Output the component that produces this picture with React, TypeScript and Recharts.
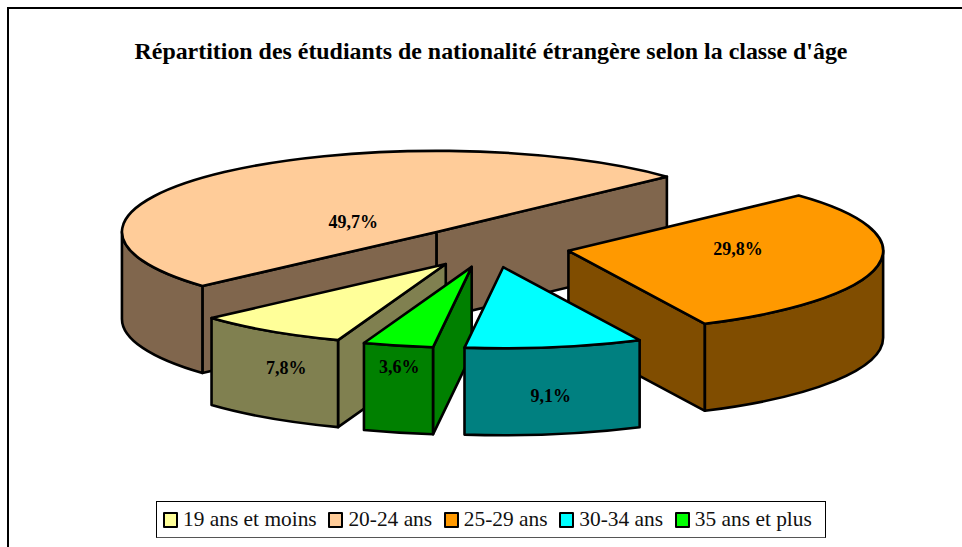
import React from "react";
import { PieChart, Pie, Legend } from "recharts";

const categories = ["19 ans et moins", "20-24 ans", "25-29 ans", "30-34 ans", "35 ans et plus"];
const shares = [7.8, 49.7, 29.8, 9.1, 3.6];
const topColors = ["#FFFF99", "#FFCC99", "#FF9900", "#00FFFF", "#00FF00"];
const wallColors = ["#808050", "#80664D", "#804D00", "#008080", "#008000"];
// Clockwise order round the pie, starting at the large slice
const ringOrder = [1, 2, 3, 4, 0];
// Painter's order of the exploded slices, back to front
const paintOrder = [1, 2, 0, 4, 3];
// Label offset from each slice's apex
const labelNudge = [[-160, 104], [-84, -10], [169, -2], [47, 129], [-73, 100]];

const ringData = ringOrder.map((i) => ({ name: categories[i], value: shares[i], index: i }));

const SQUASH = 0.2575;
const DEPTH = 87;
const EXPLODE = 79.5;
const STROKE = 2.6;

const rad = (d: number) => (d * Math.PI) / 180;

function Slice(props: any) {
  const { cx, cy, outerRadius: r, startAngle, endAngle, payload } = props;
  const idx: number = payload?.index ?? props.index;
  const delta = Math.abs(endAngle - startAngle);
  const a0 = ((90 - startAngle) % 360 + 360) % 360;
  const a1 = a0 + delta;
  const mid = a0 + delta / 2;
  const ax = cx + EXPLODE * Math.sin(rad(mid));
  const ay = cy - EXPLODE * Math.cos(rad(mid)) * SQUASH;
  const px = (a: number) => ax + r * Math.sin(rad(a));
  const py = (a: number) => ay - r * Math.cos(rad(a)) * SQUASH;
  const ry = r * SQUASH;
  const arc = (from: number, to: number, dy = 0, sweep = 1) =>
    `A${r} ${ry} 0 ${Math.abs(to - from) > 180 ? 1 : 0} ${sweep} ${px(to)} ${py(to) + dy}`;
  const common = { stroke: "#000", strokeWidth: STROKE, strokeLinejoin: "round" as const };
  const cut = (a: number) =>
    `M${ax} ${ay}L${px(a)} ${py(a)}L${px(a)} ${py(a) + DEPTH}L${ax} ${ay + DEPTH}Z`;
  const lo = Math.max(a0, 90);
  const hi = Math.min(a1, 270);
  const [nx, ny] = labelNudge[idx];
  return (
    <g>
      {Math.sin(rad(a0)) < 0 && <path d={cut(a0)} fill={wallColors[idx]} {...common} />}
      {Math.sin(rad(a1)) > 0 && <path d={cut(a1)} fill={wallColors[idx]} {...common} />}
      {hi > lo && (
        <path
          d={`M${px(lo)} ${py(lo)}${arc(lo, hi)}L${px(hi)} ${py(hi) + DEPTH}${arc(hi, lo, DEPTH, 0)}Z`}
          fill={wallColors[idx]}
          {...common}
        />
      )}
      <path d={`M${ax} ${ay}L${px(a0)} ${py(a0)}${arc(a0, a1)}Z`} fill={topColors[idx]} {...common} />
      <text
        x={ax + nx + 0.5}
        y={ay + ny}
        textAnchor="middle"
        dominantBaseline="central"
        fontFamily="'Liberation Serif'"
        fontWeight="bold"
        fontSize={18}
        fill="#000"
      >
        {shares[idx].toFixed(1).replace(".", ",")}%
      </text>
    </g>
  );
}

function LegendBox() {
  return (
    <div
      style={{
        boxSizing: "border-box",
        width: 670,
        height: 37,
        background: "#fff",
        border: "1px solid #000",
        borderBottomColor: "#555",
        display: "flex",
        alignItems: "center",
        paddingLeft: 6,
        fontFamily: "'Liberation Serif'",
        fontSize: 21.4,
        color: "#111",
        whiteSpace: "nowrap",
      }}
    >
      {categories.map((c, i) => (
        <span key={c} style={{ display: "inline-flex", alignItems: "center", marginRight: 11.7 }}>
          <span
            style={{
              boxSizing: "border-box",
              width: 15,
              height: 16,
              background: topColors[i],
              border: "2px solid #000",
              borderRadius: 1,
              marginRight: 5,
            }}
          />
          {c}
        </span>
      ))}
    </div>
  );
}

export default function App() {
  return (
    <div style={{ position: "absolute", left: 0, top: 0, width: 962, height: 547, overflow: "hidden", background: "#fff" }}>
      <div style={{ position: "absolute", left: 7, top: 7, width: 955, height: 540, borderTop: "2px solid #000", borderLeft: "2px solid #000" }} />
      <PieChart width={962} height={547} margin={{ top: 0, right: 0, bottom: 0, left: 0 }} style={{ position: "absolute", left: 0, top: 0 }}>
        <text x={491} y={59} textAnchor="middle" fontFamily="'Liberation Serif'" fontWeight="bold" fontSize={23.9} fill="#000">
          Répartition des étudiants de nationalité étrangère selon la classe d'âge
        </text>
        {paintOrder.map((only) => (
          <Pie
            key={only}
            data={ringData}
            dataKey="value"
            nameKey="name"
            cx={490.3}
            cy={247}
            innerRadius={0}
            outerRadius={314.7}
            startAngle={-138.1}
            endAngle={-498.1}
            isAnimationActive={false}
            legendType="none"
            label={false}
            labelLine={false}
            shape={(p: any) => (p.payload?.index === only ? <Slice {...p} /> : <g />)}
          />
        ))}
        <Legend
          content={() => <LegendBox />}
          wrapperStyle={{ position: "absolute", left: 156, top: 501, width: 670, height: 37, bottom: "auto" }}
        />
      </PieChart>
    </div>
  );
}
